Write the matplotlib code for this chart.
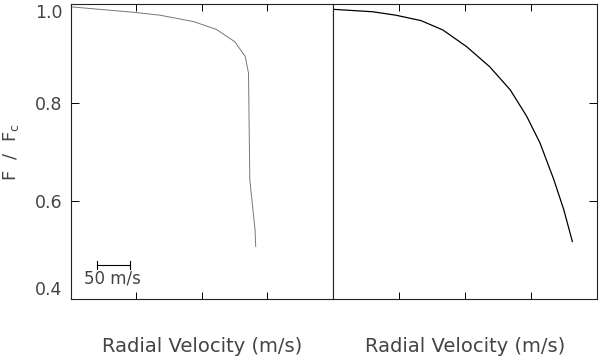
import matplotlib.pyplot as plt

# left panel: grey line profile
v_left = [0, 95, 136, 187, 222, 250, 266, 271, 273, 281, 282]
f_left = [0.995, 0.984, 0.978, 0.965, 0.949, 0.924, 0.894, 0.860, 0.643, 0.541, 0.507]

# right panel: black line profile
v_right = [0, 60, 95, 133, 166, 202, 237, 268, 293, 313, 334, 349, 362]
f_right = [0.990, 0.985, 0.978, 0.967, 0.948, 0.914, 0.873, 0.826, 0.772, 0.718, 0.643, 0.582, 0.517]

x_ticks = [100, 200, 300]
y_ticks = [0.4, 0.6, 0.8, 1.0]
y_labels = ['0.4', '0.6', '0.8', '1.0']

txt = '#444444'
plt.rcParams['font.family'] = 'DejaVu Sans'

fig = plt.figure(figsize=(6, 3.57), dpi=100)
ax1 = fig.add_axes([0.1183, 0.1625, 0.4367, 0.8252])
ax2 = fig.add_axes([0.555, 0.1625, 0.4408, 0.8252])

ax1.plot(v_left, f_left, color='#777777', lw=0.7)
ax2.plot(v_right, f_right, color='black', lw=0.9)

for ax in (ax1, ax2):
    ax.set_xlim(0, 400)
    ax.set_ylim(0.4, 1.0)
    ax.set_xticks(x_ticks)
    ax.set_xticklabels([])
    ax.set_yticks(y_ticks)
    for s in ax.spines.values():
        s.set_linewidth(0.8)
        s.set_color('#222222')
    ax.set_xlabel('Radial Velocity (m/s)', fontsize=14, color=txt, labelpad=24)
    ax.tick_params(axis='x', direction='in', length=5, width=0.7, top=True, bottom=True)

ax1.set_yticklabels(y_labels, fontsize=12.5, color=txt)
ax1.tick_params(axis='y', direction='in', length=6, width=0.7, left=True, right=False, pad=6)
# keep end labels inside the axis height, as in the reference
labs = ax1.get_yticklabels()
labs[0].set_va('bottom')
labs[-1].set_va('top')
ax1.set_ylabel('F  /  F$_\\mathrm{c}$', fontsize=13, color=txt, labelpad=10)

ax2.set_yticklabels([])
ax2.tick_params(axis='y', direction='in', length=6, width=0.7, left=False, right=True)

# 50 m/s scale bar
ax1.plot([40, 90], [0.47, 0.47], color='black', lw=0.8)
ax1.plot([40, 40], [0.462, 0.478], color='black', lw=0.8)
ax1.plot([90, 90], [0.462, 0.478], color='black', lw=0.8)
ax1.text(64, 0.442, '50 m/s', fontsize=12, color=txt, ha='center', va='center')

fig.savefig('out.png', dpi=100)
